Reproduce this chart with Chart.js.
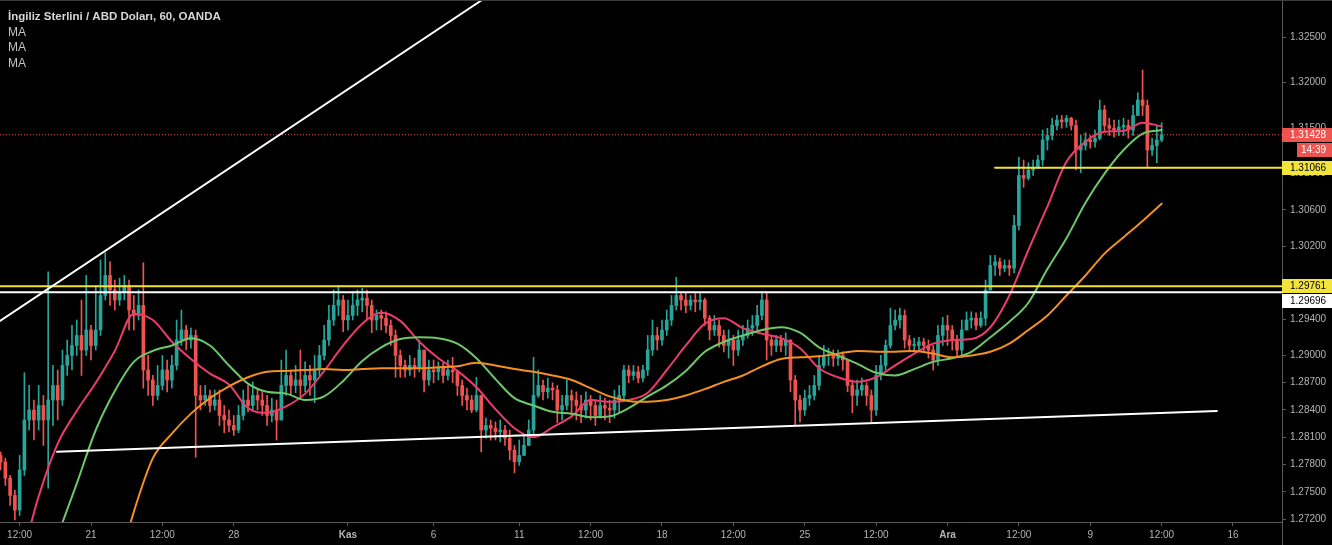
<!DOCTYPE html>
<html><head><meta charset="utf-8">
<script src="https://cdn.jsdelivr.net/npm/chart.js@4.4.1/dist/chart.umd.min.js"></script>
<style>html,body{margin:0;padding:0;background:#000;overflow:hidden}canvas{display:block}</style>
</head><body>
<canvas id="c" width="1332" height="545"></canvas>
<script>
const titleText = 'İngiliz Sterlini / ABD Doları, 60, OANDA';
const indicatorLabels = ['MA', 'MA', 'MA'];

// time axis in hourly bars (0 = 21 Oct 00:00); candles grouped by 4 hours
const barStart = -76;
const barStep = 4;
const firstOpen = 1.2790;

const closes = [
1.2783,1.2765,1.2746,1.2730,1.2774,1.2829,1.2840,1.2829,1.2845,1.2829,
1.2851,1.2867,1.2851,1.2889,1.2900,1.2911,1.2922,1.2906,1.2928,1.2911,
1.2928,1.2966,1.2988,1.2972,1.2961,1.2970,1.2977,1.2950,1.2944,1.2955,
1.2884,1.2873,1.2856,1.2867,1.2884,1.2873,1.2889,1.2917,1.2928,1.2917,
1.2922,1.2856,1.2851,1.2856,1.2845,1.2851,1.2834,1.2829,1.2823,1.2818,
1.2834,1.2851,1.2845,1.2856,1.2851,1.2845,1.2834,1.2840,1.2829,1.2867,
1.2878,1.2867,1.2873,1.2867,1.2878,1.2873,1.2884,1.2900,1.2917,1.2939,
1.2955,1.2961,1.2939,1.2944,1.2955,1.2961,1.2963,1.2955,1.2939,1.2944,
1.2941,1.2933,1.2922,1.2900,1.2889,1.2884,1.2889,1.2886,1.2906,1.2873,
1.2884,1.2882,1.2886,1.2878,1.2884,1.2882,1.2867,1.2856,1.2851,1.2840,
1.2856,1.2818,1.2823,1.2820,1.2816,1.2818,1.2809,1.2796,1.2783,1.2790,
1.2801,1.2818,1.2856,1.2867,1.2860,1.2864,1.2862,1.2840,1.2845,1.2856,
1.2851,1.2845,1.2840,1.2851,1.2845,1.2834,1.2845,1.2842,1.2840,1.2851,
1.2856,1.2884,1.2878,1.2882,1.2875,1.2884,1.2906,1.2922,1.2917,1.2928,
1.2939,1.2955,1.2966,1.2961,1.2955,1.2961,1.2959,1.2961,1.2941,1.2928,
1.2933,1.2922,1.2911,1.2917,1.2906,1.2917,1.2922,1.2930,1.2933,1.2944,
1.2961,1.2917,1.2911,1.2917,1.2911,1.2917,1.2873,1.2851,1.2840,1.2853,
1.2856,1.2867,1.2889,1.2900,1.2900,1.2897,1.2900,1.2895,1.2867,1.2856,
1.2862,1.2867,1.2856,1.2840,1.2878,1.2889,1.2911,1.2933,1.2939,1.2944,
1.2917,1.2911,1.2911,1.2915,1.2911,1.2906,1.2895,1.2922,1.2933,1.2928,
1.2917,1.2906,1.2928,1.2939,1.2941,1.2933,1.2941,1.2972,1.2999,1.3003,
1.2996,1.2999,1.2996,1.3043,1.3098,1.3095,1.3104,1.3106,1.3115,1.3137,
1.3142,1.3153,1.3159,1.3157,1.3161,1.3153,1.3126,1.3131,1.3137,1.3135,
1.3139,1.3170,1.3153,1.3150,1.3148,1.3151,1.3153,1.3148,1.3164,1.3181,
1.3175,1.3126,1.3131,1.3137,1.31428
];
const highs = [
1.2794,1.2787,1.2768,1.2752,1.2790,1.2881,1.2867,1.2851,1.2867,1.2856,
1.2992,1.2889,1.2884,1.2906,1.2917,1.2933,1.2939,1.2961,1.2988,1.2933,
1.2977,1.3005,1.3013,1.3003,1.2983,1.2985,1.2988,1.2983,1.2966,1.2972,
1.3002,1.2900,1.2878,1.2889,1.2900,1.2895,1.2900,1.2939,1.2950,1.2933,
1.2930,1.2928,1.2867,1.2867,1.2862,1.2862,1.2862,1.2845,1.2840,1.2834,
1.2845,1.2862,1.2867,1.2871,1.2864,1.2860,1.2856,1.2853,1.2851,1.2895,
1.2906,1.2884,1.2889,1.2906,1.2893,1.2889,1.2900,1.2911,1.2933,1.2955,
1.2972,1.2977,1.2966,1.2961,1.2970,1.2972,1.2974,1.2972,1.2961,1.2950,
1.2950,1.2948,1.2939,1.2928,1.2906,1.2895,1.2900,1.2897,1.2917,1.2906,
1.2895,1.2895,1.2893,1.2892,1.2895,1.2898,1.2884,1.2873,1.2864,1.2856,
1.2876,1.2856,1.2831,1.2829,1.2827,1.2829,1.2823,1.2818,1.2801,1.2807,
1.2812,1.2829,1.2898,1.2884,1.2873,1.2875,1.2870,1.2867,1.2856,1.2873,
1.2862,1.2860,1.2856,1.2860,1.2856,1.2851,1.2856,1.2853,1.2851,1.2862,
1.2867,1.2889,1.2889,1.2889,1.2888,1.2889,1.2922,1.2939,1.2931,1.2939,
1.2950,1.2966,1.2986,1.2970,1.2969,1.2966,1.2968,1.2969,1.2963,1.2944,
1.2944,1.2939,1.2928,1.2928,1.2922,1.2928,1.2933,1.2939,1.2944,1.2955,
1.2970,1.2970,1.2922,1.2922,1.2922,1.2925,1.2917,1.2878,1.2856,1.2862,
1.2867,1.2878,1.2900,1.2911,1.2908,1.2906,1.2906,1.2904,1.2889,1.2873,
1.2873,1.2875,1.2870,1.2862,1.2889,1.2900,1.2917,1.2952,1.2950,1.2952,
1.2950,1.2922,1.2919,1.2920,1.2919,1.2917,1.2911,1.2933,1.2942,1.2944,
1.2933,1.2922,1.2939,1.2948,1.2948,1.2947,1.2948,1.2983,1.3010,1.3010,
1.3007,1.3005,1.3005,1.3054,1.3118,1.3115,1.3112,1.3115,1.3120,1.3148,
1.3150,1.3161,1.3164,1.3164,1.3164,1.3162,1.3159,1.3142,1.3145,1.3142,
1.3148,1.3181,1.3175,1.3161,1.3159,1.3159,1.3161,1.3159,1.3175,1.3189,
1.3214,1.3181,1.3139,1.3153,1.3156
];
const lows = [
1.2774,1.2757,1.2735,1.2719,1.2724,1.2768,1.2818,1.2807,1.2818,1.2801,
1.2754,1.2823,1.2829,1.2845,1.2878,1.2884,1.2900,1.2878,1.2900,1.2895,
1.2906,1.2922,1.2961,1.2955,1.2950,1.2955,1.2961,1.2928,1.2928,1.2939,
1.2864,1.2856,1.2845,1.2851,1.2862,1.2860,1.2864,1.2884,1.2911,1.2906,
1.2908,1.2788,1.2840,1.2845,1.2838,1.2840,1.2823,1.2815,1.2816,1.2812,
1.2815,1.2829,1.2838,1.2840,1.2840,1.2834,1.2823,1.2827,1.2807,1.2829,
1.2856,1.2856,1.2859,1.2854,1.2860,1.2856,1.2848,1.2878,1.2895,1.2911,
1.2933,1.2944,1.2926,1.2928,1.2939,1.2944,1.2948,1.2939,1.2925,1.2928,
1.2928,1.2925,1.2911,1.2876,1.2876,1.2876,1.2878,1.2876,1.2882,1.2860,
1.2867,1.2870,1.2873,1.2870,1.2873,1.2870,1.2856,1.2845,1.2840,1.2837,
1.2838,1.2794,1.2809,1.2807,1.2807,1.2805,1.2801,1.2785,1.2771,1.2779,
1.2790,1.2801,1.2812,1.2854,1.2851,1.2853,1.2851,1.2826,1.2829,1.2840,
1.2834,1.2829,1.2826,1.2831,1.2829,1.2823,1.2831,1.2829,1.2826,1.2831,
1.2837,1.2851,1.2870,1.2873,1.2870,1.2871,1.2878,1.2900,1.2906,1.2911,
1.2922,1.2933,1.2950,1.2950,1.2947,1.2950,1.2948,1.2950,1.2933,1.2917,
1.2922,1.2909,1.2904,1.2897,1.2889,1.2900,1.2911,1.2919,1.2922,1.2928,
1.2939,1.2895,1.2900,1.2904,1.2904,1.2900,1.2860,1.2823,1.2827,1.2834,
1.2845,1.2851,1.2862,1.2886,1.2889,1.2888,1.2889,1.2884,1.2860,1.2837,
1.2845,1.2856,1.2845,1.2827,1.2834,1.2873,1.2884,1.2908,1.2928,1.2930,
1.2908,1.2904,1.2904,1.2906,1.2904,1.2897,1.2884,1.2889,1.2911,1.2911,
1.2906,1.2898,1.2898,1.2928,1.2930,1.2928,1.2931,1.2933,1.2972,1.2988,
1.2988,1.2992,1.2988,1.2991,1.3038,1.3085,1.3093,1.3098,1.3106,1.3109,
1.3126,1.3137,1.3148,1.3150,1.3151,1.3148,1.3104,1.3101,1.3126,1.3128,
1.3129,1.3137,1.3146,1.3142,1.3140,1.3142,1.3142,1.3139,1.3142,1.3168,
1.3164,1.3107,1.3120,1.3112,1.3135
];

// moving averages, one reading every 4 candles (16 hours)
const maEvery = 4;
const maFast = [
1.2609,1.2669,1.2745,1.2803,1.2839,1.2870,1.2905,1.2946,1.2939,1.2915,
1.2896,1.2880,1.2868,1.2842,1.2837,1.2844,1.2858,1.2883,1.2911,1.2935,
1.2947,1.2938,1.2915,1.2897,1.2883,1.2865,1.2841,1.2820,1.2810,1.2821,
1.2833,1.2851,1.2849,1.2851,1.2859,1.2884,1.2911,1.2935,1.2941,1.2930,
1.2924,1.2919,1.2908,1.2886,1.2876,1.2871,1.2876,1.2889,1.2902,1.2913,
1.2917,1.2918,1.2931,1.2966,1.3016,1.3064,1.3113,1.3135,1.3146,1.3147,
1.3156,1.3152
];
const maMid = [
null,null,1.2647,1.2702,1.2759,1.2818,1.2861,1.2893,1.2905,1.2911,
1.2919,1.2911,1.2889,1.2869,1.2860,1.2858,1.2851,1.2855,1.2872,1.2894,
1.2909,1.2918,1.2920,1.2919,1.2913,1.2897,1.2874,1.2853,1.2845,1.2838,
1.2836,1.2832,1.2833,1.2842,1.2855,1.2867,1.2883,1.2904,1.2915,1.2922,
1.2928,1.2931,1.2925,1.2909,1.2900,1.2891,1.2881,1.2878,1.2885,1.2893,
1.2897,1.2904,1.2920,1.2937,1.2958,1.2995,1.3029,1.3068,1.3100,1.3126,
1.3144,1.3148
];
const maSlow = [
null,null,null,null,null,null,1.2653,1.2728,1.2787,1.2814,
1.2836,1.2853,1.2866,1.2876,1.2882,1.2883,1.2884,1.2885,1.2884,1.2885,
1.2886,1.2886,1.2886,1.2887,1.2888,1.2892,1.2889,1.2885,1.2882,1.2878,
1.2873,1.2864,1.2855,1.2850,1.2849,1.2851,1.2856,1.2863,1.2871,1.2878,
1.2888,1.2896,1.2898,1.2899,1.2902,1.2905,1.2904,1.2904,1.2905,1.2902,
1.2898,1.2900,1.2904,1.2913,1.2928,1.2944,1.2966,1.2988,1.3012,1.3030,
1.3048,1.3067
];

const xTickValues = [-60, 0, 60, 120, 216, 288, 360, 420, 480, 540, 600, 660, 720, 780, 840, 900, 960];
const xTickLabels = ['12:00','21','12:00','28','Kas','6','11','12:00','18','12:00','25','12:00','Ara','12:00','9','12:00','16'];
const monthLabels = ['Kas', 'Ara'];
const yTickValues = [1.272, 1.275, 1.278, 1.281, 1.284, 1.287, 1.290, 1.294, 1.302, 1.306, 1.310, 1.315, 1.320, 1.325];
const xRange = [-76.5, 1001.2];
const yRange = [1.27168, 1.3291];

const lastPrice = 1.31428;
const countdown = '14:39';
const levelYellowLow = 1.29761;
const levelWhite = 1.29696;
const levelYellowHigh = 1.31066;
const levelYellowHighStart = 760;
const trendUpX = [-76.5, 328.7];
const trendUpY = [1.2938, 1.3291];
const trendSupportX = [-28.6, 946.5];
const trendSupportY = [1.2794, 1.2839];

if (closes.length !== highs.length || closes.length !== lows.length) throw new Error('candle arrays ' + closes.length + ' ' + highs.length + ' ' + lows.length);
if (maFast.length !== maMid.length || maFast.length !== maSlow.length) throw new Error('ma arrays');

const UP = '#26a69a', DOWN = '#ef5350';
const AXIS = '#5a5a5a', TICK = '#b4b4b4';
const FONT = '"Liberation Sans", Arial, sans-serif';

const opens = closes.map((c, k) => k === 0 ? firstOpen : closes[k - 1]);
const xs = closes.map((c, k) => barStart + barStep * k);
const colors = closes.map((c, k) => c >= opens[k] ? UP : DOWN);
const bodies = closes.map((c, k) => ({ x: xs[k], y: [opens[k], c] }));
const wicks = closes.map((c, k) => ({ x: xs[k], y: [Math.min(lows[k], opens[k], c), Math.max(highs[k], opens[k], c)] }));
const maPts = arr => arr.map((v, i) => ({ x: barStart + barStep * maEvery * i, y: v }));
const seg = (xa, ya) => xa.map((x, i) => ({ x, y: ya[i] }));

const lineDS = (data, color, width, order, extra) => Object.assign({
  type: 'line', data, borderColor: color, borderWidth: width, pointRadius: 0,
  fill: false, order, borderJoinStyle: 'round', borderCapStyle: 'round'
}, extra || {});

const overlay = {
  id: 'overlay',
  afterDraw(chart) {
    const { ctx, chartArea: a, scales: { y } } = chart;
    const W = chart.width, H = chart.height;
    ctx.save();
    ctx.fillStyle = '#000';
    ctx.fillRect(a.right + 1, a.bottom + 1, W - a.right, H - a.bottom);
    ctx.strokeStyle = AXIS; ctx.lineWidth = 1;
    ctx.beginPath(); ctx.moveTo(a.right + 0.5, 0); ctx.lineTo(a.right + 0.5, H); ctx.stroke();
    ctx.strokeStyle = '#3c3c3c';
    ctx.beginPath(); ctx.moveTo(0, 0.5); ctx.lineTo(W, 0.5); ctx.stroke();

    const h = 14;
    let lastBottom = -1e9;
    const tag = (text, value, bg, fg, x0, shift) => {
      let yc = y.getPixelForValue(value) + (shift || 0);
      if (yc - h / 2 < lastBottom + 1) yc = lastBottom + 1 + h / 2;
      ctx.fillStyle = bg;
      ctx.fillRect(x0, Math.round(yc - h / 2), W - x0, h);
      ctx.fillStyle = fg;
      ctx.font = '10px ' + FONT;
      ctx.textBaseline = 'middle'; ctx.textAlign = 'left';
      ctx.fillText(text, x0 === a.right ? a.right + 8 : x0 + 4, Math.round(yc) + 0.5);
      lastBottom = Math.round(yc - h / 2) + h;
    };
    tag(lastPrice.toFixed(5), lastPrice, '#ef5350', '#ffffff', a.right);
    tag(countdown, lastPrice, '#ef5350', '#ffffff', a.right + 15, 3);
    tag(levelYellowHigh.toFixed(5), levelYellowHigh, '#f2e33d', '#000000', a.right);
    lastBottom = -1e9;
    tag(levelYellowLow.toFixed(5), levelYellowLow, '#f2e33d', '#000000', a.right);
    tag(levelWhite.toFixed(5), levelWhite, '#ffffff', '#000000', a.right);

    // title block
    let size = 13;
    ctx.font = 'bold ' + size + 'px ' + FONT;
    while (ctx.measureText(titleText).width > 214 && size > 8) { size -= 0.25; ctx.font = 'bold ' + size + 'px ' + FONT; }
    ctx.textAlign = 'left'; ctx.textBaseline = 'middle';
    ctx.fillStyle = '#d6d6d6';
    ctx.fillText(titleText, 8, 16.5);
    ctx.font = '12px ' + FONT;
    ctx.fillStyle = '#c4c4c4';
    indicatorLabels.forEach((t, i) => ctx.fillText(t, 8, 32.5 + i * 15.5));
    ctx.restore();
  }
};

new Chart(document.getElementById('c'), {
  type: 'bar',
  data: {
    datasets: [
      lineDS(seg(trendUpX, trendUpY), '#ffffff', 2, 1),
      lineDS(seg(trendSupportX, trendSupportY), '#ffffff', 2, 1),
      lineDS(seg(xRange, [levelYellowLow, levelYellowLow]), '#f2e33d', 2, 1),
      lineDS(seg(xRange, [levelWhite, levelWhite]), '#ffffff', 2, 1),
      lineDS(seg([levelYellowHighStart, xRange[1]], [levelYellowHigh, levelYellowHigh]), '#f2e33d', 2, 1),
      lineDS(seg(xRange, [lastPrice, lastPrice]), '#e4573c', 1, 2, { borderDash: [1, 2], borderCapStyle: 'butt' }),
      lineDS(maPts(maSlow), '#f39020', 2, 3, { cubicInterpolationMode: 'monotone' }),
      lineDS(maPts(maMid), '#6dc86a', 2, 3, { cubicInterpolationMode: 'monotone' }),
      lineDS(maPts(maFast), '#ec3b6e', 2, 3, { cubicInterpolationMode: 'monotone' }),
      { type: 'bar', data: bodies, backgroundColor: colors, barThickness: 3, grouped: false, borderWidth: 0, minBarLength: 1, order: 10 },
      { type: 'bar', data: wicks, backgroundColor: colors, barThickness: 1, grouped: false, borderWidth: 0, order: 11 }
    ]
  },
  options: {
    responsive: false, animation: false, devicePixelRatio: 1, events: [],
    layout: { padding: 0 },
    plugins: { legend: { display: false }, tooltip: { enabled: false }, title: { display: false } },
    scales: {
      x: {
        type: 'linear', position: 'bottom', min: xRange[0], max: xRange[1], offset: false,
        grid: { display: true, offset: false, drawOnChartArea: false, drawTicks: true, tickLength: 4, color: AXIS },
        border: { display: true, color: AXIS },
        ticks: {
          autoSkip: false, maxRotation: 0, padding: 3, color: TICK,
          font: ctx => ({ family: FONT, size: 10, weight: monthLabels.includes(xTickLabels[ctx.index]) ? 'bold' : 'normal' }),
          callback: (v, i) => xTickLabels[i]
        },
        afterBuildTicks: s => { s.ticks = xTickValues.map(v => ({ value: v })); },
        afterFit: s => { s.height = 23; s.paddingLeft = 0; s.paddingRight = 0; }
      },
      y: {
        type: 'linear', position: 'right', min: yRange[0], max: yRange[1],
        grid: { display: true, offset: false, drawOnChartArea: false, drawTicks: true, tickLength: 4, color: AXIS },
        border: { display: true, color: AXIS },
        ticks: { autoSkip: false, padding: 4, color: TICK, font: { family: FONT, size: 10 }, callback: v => Number(v).toFixed(5) },
        afterBuildTicks: s => { s.ticks = yTickValues.map(v => ({ value: v })); },
        afterFit: s => { s.width = 50; s.paddingTop = 0; s.paddingBottom = 0; }
      }
    }
  },
  plugins: [overlay]
});
</script>
</body></html>
